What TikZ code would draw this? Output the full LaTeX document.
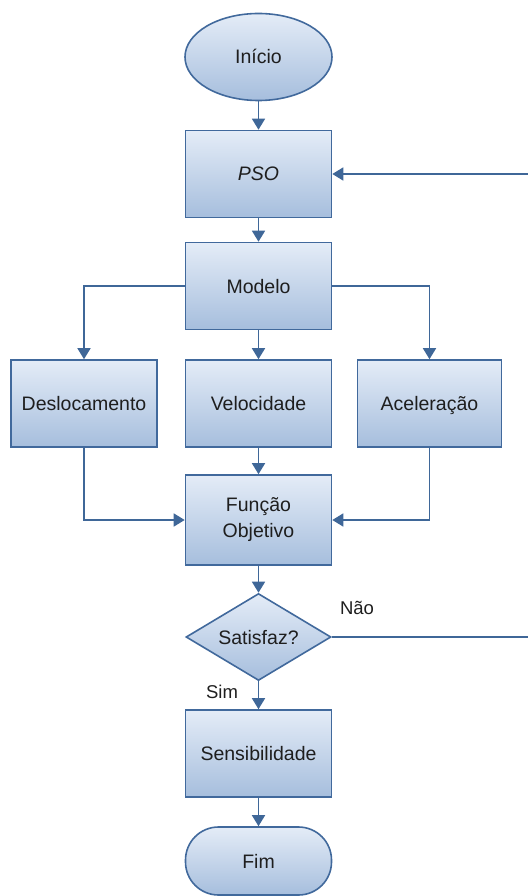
\documentclass[tikz,border=0pt]{standalone}
\usepackage{fontspec}
\setmainfont{Liberation Sans}
\usetikzlibrary{shapes.geometric,arrows.meta}
\definecolor{edgeblue}{HTML}{41699C}
\definecolor{lineblue}{HTML}{3F6798}
\definecolor{filltop}{HTML}{E4ECF7}
\definecolor{fillbot}{HTML}{A6BEDD}
\definecolor{txt}{HTML}{1E1E1E}
\begin{document}
\begin{tikzpicture}[x=1pt,y=-1pt,
  base/.style={draw=edgeblue,line width=1.6pt,top color=filltop,bottom color=fillbot,
    text=txt,font=\fontsize{19.5}{23}\selectfont,align=center,inner sep=2pt},
  oneline/.style={text height=14pt,text depth=0pt},
  procbox/.style={base,rectangle,minimum width=146pt,minimum height=87pt},
  termell/.style={base,oneline,ellipse,minimum width=147pt,minimum height=87pt},
  termround/.style={base,oneline,rectangle,rounded corners=33pt,minimum width=146pt,minimum height=68pt},
  decide/.style={base,oneline,diamond,minimum width=145pt,minimum height=87pt,aspect=1.67,inner sep=0pt},
  conn/.style={draw=lineblue,line width=1.6pt,-{Triangle[length=11pt,width=13pt]}},
  lbl/.style={text=txt,font=\fontsize{18.5}{22}\selectfont}]
\useasboundingbox (0,0) rectangle (527,896);
\node[termell] (start) at (258.5,57) {Início};
\node[procbox,oneline] (pso) at (258.5,174) {\itshape PSO};
\node[procbox,oneline] (modelo) at (258.5,286) {Modelo};
\node[procbox,oneline] (desl) at (84,403.5) {Deslocamento};
\node[procbox,oneline] (velo) at (258.5,403.5) {Velocidade};
\node[procbox,oneline,minimum width=144pt] (acel) at (429.5,403.5) {Aceleração};
\node[procbox,minimum height=90pt] (func) at (258.5,520) {Função\\[3pt]Objetivo};
\node[decide] (dec) at (258.5,637) {Satisfaz?};
\node[procbox,oneline] (sens) at (258.5,753.5) {Sensibilidade};
\node[termround] (fim) at (258.5,861) {Fim};
\coordinate (fbk) at (529,637);
\draw[conn] (start) -- (pso);
\draw[conn] (pso) -- (modelo);
\draw[conn] (modelo.west) -| (desl.north);
\draw[conn] (modelo) -- (velo);
\draw[conn] (modelo.east) -| (acel.north);
\draw[conn] (velo) -- (func);
\draw[conn] (desl.south) |- (func.west);
\draw[conn] (acel.south) |- (func.east);
\draw[conn] (func) -- (dec);
\draw[conn] (dec) -- (sens);
\draw[conn] (sens) -- (fim);
\draw[conn] (dec.east) -- (fbk) |- (pso.east);
\node[lbl] (nao) at (357,608) {Não};
\node[lbl] (sim) at (222,692) {Sim};
\end{tikzpicture}
\end{document}
